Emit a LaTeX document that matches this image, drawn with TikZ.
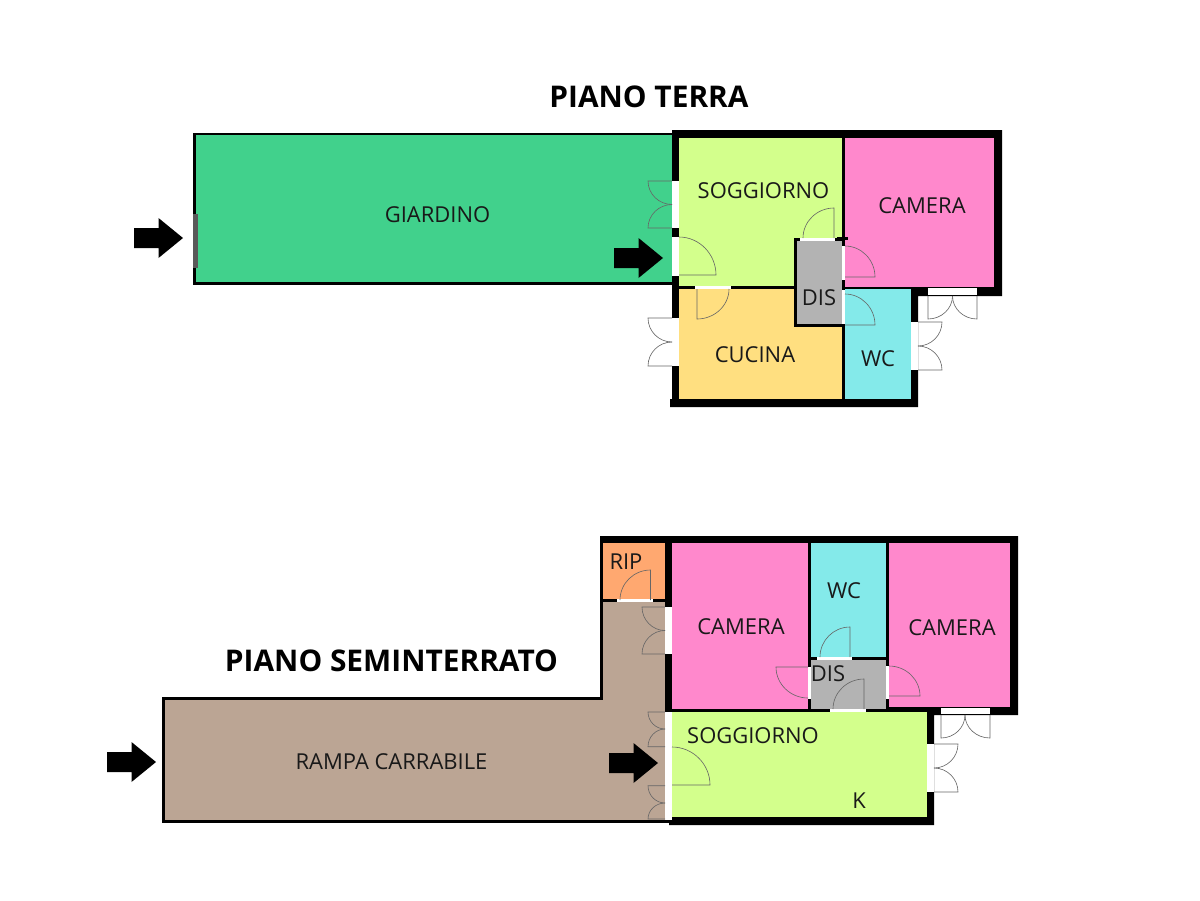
\documentclass[tikz,border=0pt]{standalone}
\usepackage{fontspec}
\setmainfont{Open Sans}
\usetikzlibrary{calc}
\definecolor{giardino}{HTML}{41D18C}
\definecolor{soggiorno}{HTML}{D3FF8C}
\definecolor{camera}{HTML}{FF88CC}
\definecolor{cucina}{HTML}{FFDF80}
\definecolor{bagno}{HTML}{84EAEA}
\definecolor{disimpegno}{HTML}{B3B3B3}
\definecolor{ripostiglio}{HTML}{FFA870}
\definecolor{rampa}{HTML}{BBA594}
\tikzset{
	room/.style={font=\fontsize{12.5pt}{14pt}\selectfont, text=black!90, inner sep=0pt},
	title/.style={font=\fontsize{17pt}{19pt}\selectfont\bfseries, text=black, inner sep=0pt},
	leaf/.style={draw=black!60, line width=0.35pt},
	outline/.style={draw=black, line width=1.7pt}
}
\begin{document}
\begin{tikzpicture}[x=0.02cm,y=-0.02cm]
	\useasboundingbox (0,0) rectangle (1200,900);
	\fill[white] (0,0) rectangle (1200,900);
	% piano terra
	\draw[outline,fill=giardino] (194.5,134) rectangle (674,283.5);
	\fill[black!65] (193,214) rectangle (198,268);
	\fill[black] (672,130) -- (1002,130) -- (1002,296) -- (918,296) -- (918,407) -- (670,407) -- (670,399) -- (672,399) -- cycle;
	\fill[soggiorno] (679,138) rectangle (842,286);
	\fill[camera] (845,138) rectangle (994,287);
	\fill[cucina] (679,289) rectangle (842,399);
	\fill[bagno] (845,289) rectangle (911,399);
	\fill[black] (794,238) rectangle (845,327);
	\fill[disimpegno] (797,241) rectangle (842,324);
	\fill[black] (837,237) rectangle (848,240);
	\fill[white] (672,181) rectangle (679,228);
	\fill[white] (672,237) rectangle (679,276);
	\fill[white] (672,318) rectangle (679,366);
	\fill[white] (911,322) rectangle (918,370);
	\fill[white] (928,288) rectangle (977,295);
	\fill[white] (800,238) rectangle (835,241);
	\fill[white] (842,246) rectangle (845,280);
	\fill[white] (842,290) rectangle (845,324);
	\fill[white] (695,286) rectangle (731,289);
	% piano seminterrato
	\draw[outline,fill=rampa] (601.5,540) -- (601.5,698) -- (163.5,698) -- (163.5,821.5) -- (668,821.5) -- (668,540) -- cycle;
	\fill[black] (600,536) -- (1018,536) -- (1018,715) -- (934,715) -- (934,825) -- (669,825) -- (669,712) -- (665,712) -- (665,543) -- (600,543) -- cycle;
	\fill[ripostiglio] (603,543) rectangle (665,599);
	\fill[black] (603,599) rectangle (665,602);
	\fill[camera] (672,543) rectangle (808,709);
	\fill[bagno] (810.5,543) rectangle (886,657);
	\fill[disimpegno] (810.5,660) rectangle (886,709);
	\fill[camera] (889,543) rectangle (1010,707);
	\fill[soggiorno] (672,712) rectangle (927,817);
	\fill[black] (927,707) rectangle (934,712);
	\fill[white] (665,607) rectangle (672,654);
	\fill[white] (665,712) rectangle (672,820);
	\fill[white] (927,744) rectangle (934,792);
	\fill[white] (941,708) rectangle (990,714);
	\fill[white] (617,599) rectangle (653,602);
	\fill[white] (817,657) rectangle (852,660);
	\fill[white] (830,709) rectangle (866,712);
	\fill[white] (808,667) rectangle (810.5,699);
	\fill[white] (886,666) rectangle (889,699);
	% ante
	\foreach \hx/\hy/\ox/\oy/\cx/\cy in {
		672/181/648/181/672/204.5, 672/228/648/228/672/204.5,
		679/275/716/275/679/237,
		672/318/648/318/672/342, 672/366/648/366/672/342,
		918/322/942/322/918/346, 918/370/942/370/918/346,
		928/296/928/319/952.5/296, 977/296/977/319/952.5/296,
		834/238/834/208/803/238, 845/277/875/277/845/246,
		845/325/875/325/845/294, 697/289/697/319/729/289,
		665/607/642/607/665/630.5, 665/654/642/654/665/630.5,
		665/712/648/712/665/729, 665/746.7/648/746.7/665/729,
		665/785.7/648/785.7/665/803, 665/819/648/819/665/803,
		672/785/710/785/672/747,
		934/744/958/744/934/768, 934/792/958/792/934/768,
		941/715/941/738/965/715, 990/715/990/738/965/715,
		650.5/600/650.5/570/620/600, 850/657/850/627/820/657,
		864/709/864/679/833/709, 808/667/776/667/808/698,
		889/696/920/696/889/666}
		\draw[leaf] (\hx,\hy) -- (\ox,\oy) .. controls ($(\ox,\oy)+0.55*(\cx,\cy)-0.55*(\hx,\hy)$) and ($(\cx,\cy)+0.55*(\ox,\oy)-0.55*(\hx,\hy)$) .. (\cx,\cy);
	% ingressi
	\foreach \tipx/\tipy in {183/238, 663/258, 156/762, 658/763}
		\fill[black,shift={(\tipx,\tipy)}] (-49,-10) -- (-24.5,-10) -- (-24.5,-20) -- (0,0) -- (-24.5,20) -- (-24.5,10) -- (-49,10) -- cycle;
	\node [title] (titoloterra) at (649,96.5) {PIANO TERRA};
	\node [title] (titolosemi) at (391.5,660.5) {PIANO SEMINTERRATO};
	\node [room] (giardino) at (437.5,215) {GIARDINO};
	\node [room] (soggiornoa) at (763.5,191) {SOGGIORNO};
	\node [room] (cameraa) at (922,206) {CAMERA};
	\node [room] (disa) at (819,298) {DIS};
	\node [room] (cucina) at (755,355) {CUCINA};
	\node [room] (wca) at (878,359) {WC};
	\node [room] (rip) at (626,562) {RIP};
	\node [room] (camerab) at (741,627) {CAMERA};
	\node [room] (wcb) at (844,591) {WC};
	\node [room] (camerac) at (952,628) {CAMERA};
	\node [room] (disb) at (828,674) {DIS};
	\node [room] (soggiornob) at (753,736) {SOGGIORNO};
	\node [room] (kitchen) at (859,801) {K};
	\node [room] (rampa) at (391.5,762) {RAMPA CARRABILE};
\end{tikzpicture}
\end{document}
